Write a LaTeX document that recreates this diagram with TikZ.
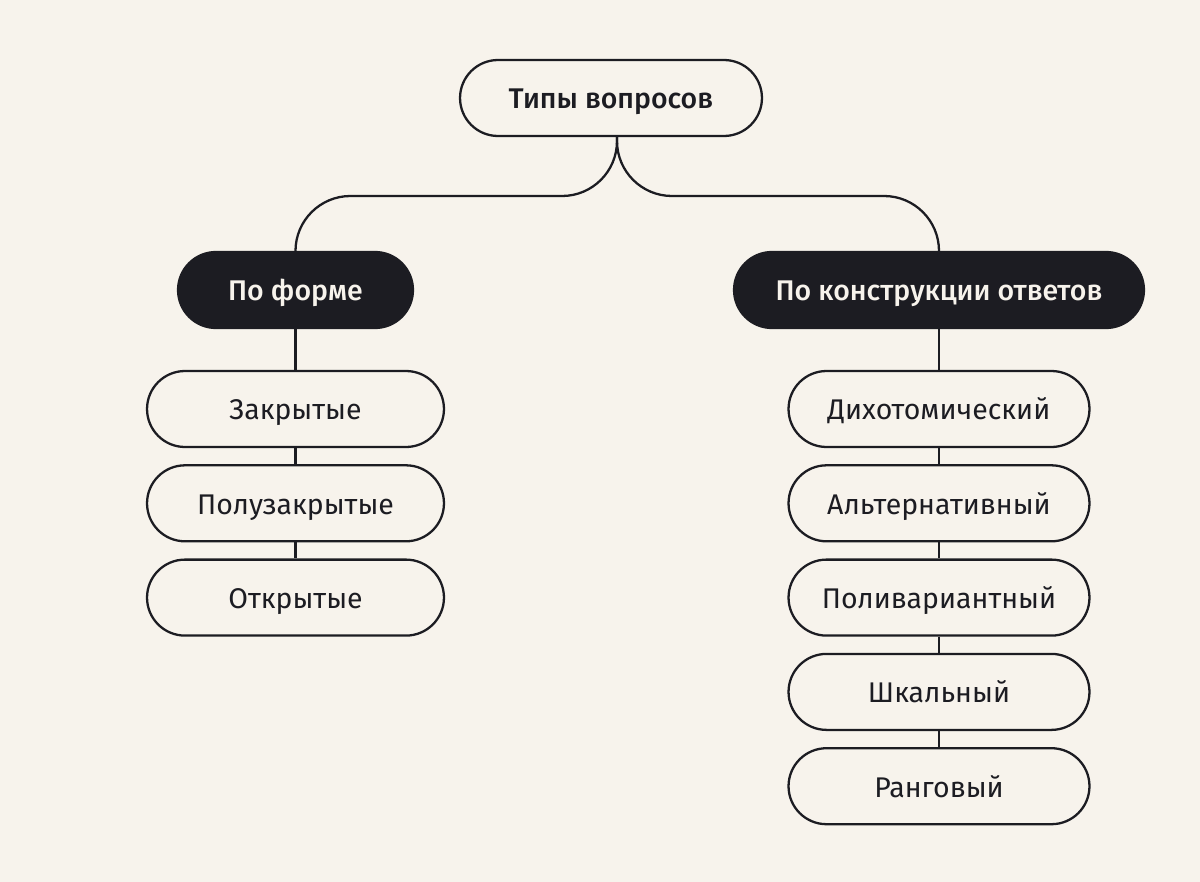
\documentclass[tikz,border=0pt]{standalone}
\usepackage{fontspec}
\setmainfont{Fira Sans}
\newfontfamily\medfont{Fira Sans Medium}
\usetikzlibrary{positioning}
\definecolor{cbg}{HTML}{F7F3EC}
\definecolor{cink}{HTML}{1C1C22}
\tikzset{
  pill/.style={draw=cink, line width=1.3pt, fill=cbg, rounded corners=0.76cm,
    minimum height=1.52cm, inner sep=0pt, text=cink,
    text height=12.4pt, text depth=0pt,
    font=\fontsize{16.2}{18}\selectfont},
  head/.style={pill, fill=cink, text=cbg, font=\medfont\fontsize{16.2}{18}\selectfont},
  link/.style={draw=cink, line width=1.3pt},
}
\begin{document}
\begin{tikzpicture}[x=0.02cm, y=-0.02cm]
  \fill[cbg] (0,0) rectangle (1200,882);
  % root and the two groups
  \node[pill, font=\medfont\fontsize{16.2}{18}\selectfont, minimum width=6.04cm] (types) at (611,98) {Типы вопросов};
  \node[head, minimum width=4.7cm] (form) at (295.5,290) {По форме};
  \node[head, minimum width=8.2cm] (constr) at (939,290) {По конструкции ответов};
  % left column
  \foreach \t [count=\i] in {Закрытые, Полузакрытые, Открытые}{
    \node[pill, minimum width=5.94cm] (l\i) at (295.5,{409+94.3*(\i-1)}) {\t};
  }
  % right column
  \foreach \t [count=\i] in {Дихотомический, Альтернативный, Поливариантный, Шкальный, Ранговый}{
    \node[pill, minimum width=6.02cm] (r\i) at (939,{409+94.3*(\i-1)}) {\t};
  }
  % branches from the root
  \coordinate (split) at ([xshift=0.12cm]types.south);
  \coordinate (lbend) at (295.5,196);
  \coordinate (rbend) at (939,196);
  \draw[link, rounded corners=1.1cm] (split) |- (lbend) -- (form.north);
  \draw[link, rounded corners=1.1cm] (split) |- (rbend) -- (constr.north);
  % stems
  \foreach \a/\b in {form/l1, l1/l2, l2/l3}
    \draw[link] (\a.south) -- (\b.north);
  \foreach \a/\b in {constr/r1, r1/r2, r2/r3, r3/r4, r4/r5}
    \draw[link] (\a.south) -- (\b.north);
\end{tikzpicture}
\end{document}
